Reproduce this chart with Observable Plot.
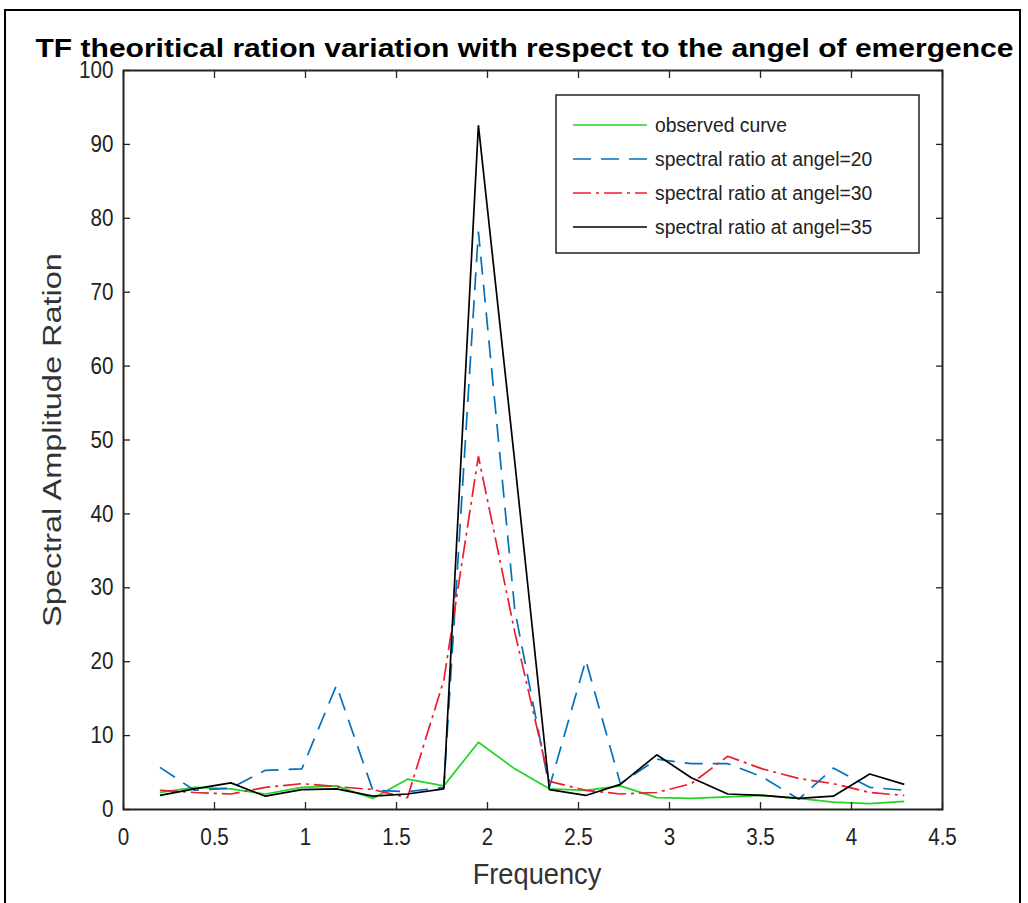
<!DOCTYPE html>
<html>
<head>
<meta charset="utf-8">
<script src="https://cdn.jsdelivr.net/npm/d3@7"></script>
<script src="https://cdn.jsdelivr.net/npm/@observablehq/plot@0.6"></script>
<style>
  html, body { margin: 0; padding: 0; background: #fff; }
  #chart { position: relative; width: 1028px; height: 903px; }
</style>
</head>
<body>
<div id="chart"></div>
<script>
const titleText = "TF theoritical ration variation with respect to the angel of emergence";
const xLabel = "Frequency";
const yLabel = "Spectral Amplitude Ration";
const xTicks = [0, 0.5, 1, 1.5, 2, 2.5, 3, 3.5, 4, 4.5];
const yTicks = [0, 10, 20, 30, 40, 50, 60, 70, 80, 90, 100];
const freq = [0.2, 0.39, 0.59, 0.78, 0.98, 1.17, 1.37, 1.56, 1.76, 1.95, 2.15, 2.34, 2.54, 2.73, 2.93, 3.12, 3.32, 3.51, 3.71, 3.9, 4.1, 4.29];
const observed = [2.3, 3.0, 2.8, 2.1, 3.0, 3.2, 1.5, 4.1, 3.2, 9.1, 5.5, 2.8, 2.6, 3.2, 1.6, 1.5, 1.7, 1.9, 1.5, 1.0, 0.8, 1.1];
const angle20 = [5.7, 2.6, 2.9, 5.3, 5.5, 16.8, 2.6, 2.4, 3.0, 78.2, 27.0, 3.0, 20.2, 3.5, 6.8, 6.2, 6.2, 4.4, 1.4, 5.6, 3.0, 2.6];
const angle30 = [2.6, 2.3, 2.1, 3.0, 3.5, 3.1, 2.7, 1.6, 17.5, 47.8, 24.0, 3.8, 2.6, 2.1, 2.3, 3.5, 7.2, 5.5, 4.2, 3.5, 2.3, 1.9];
const angle35 = [1.9, 2.8, 3.6, 1.8, 2.7, 2.8, 1.8, 2.1, 2.8, 92.6, 47.0, 2.7, 1.9, 3.4, 7.4, 4.3, 2.1, 1.9, 1.5, 1.8, 4.8, 3.4];
const seriesNames = ["observed curve", "spectral ratio at angel=20", "spectral ratio at angel=30", "spectral ratio at angel=35"];

const seriesStyle = [
  {stroke: "#22d522", dash: null},
  {stroke: "#0072BD", dash: "18,10"},
  {stroke: "#ee1c2c", dash: "18,5,3,5"},
  {stroke: "#000000", dash: null}
];
const seriesValues = [observed, angle20, angle30, angle35];
const rows = [];
seriesValues.forEach((vals, s) => vals.forEach((v, i) => rows.push({series: seriesNames[s], f: freq[i], v})));

const FONT = "'Liberation Sans', Arial, sans-serif";

const lineMarks = seriesNames.map((name, s) =>
  Plot.line(rows.filter(r => r.series === name), {
    x: "f", y: "v",
    stroke: seriesStyle[s].stroke,
    strokeWidth: 1.7,
    strokeDasharray: seriesStyle[s].dash,
    strokeLinejoin: "miter",
    strokeLinecap: "butt"
  })
);

const plot = Plot.plot({
  width: 1028,
  height: 903,
  marginLeft: 123,
  marginRight: 86,
  marginTop: 70,
  marginBottom: 94,
  style: {fontFamily: FONT, fontSize: "24px", color: "#222", background: "transparent"},
  x: {domain: [0, 4.5], label: null},
  y: {domain: [0, 100], label: null},
  marks: [
    ...lineMarks,
    Plot.axisX(xTicks, {anchor: "bottom", tickSize: -7, tickPadding: 25, tickFormat: d => String(d), fontSize: 24, stroke: "#222", strokeWidth: 1.3}),
    Plot.axisX(xTicks, {anchor: "top", tickSize: -7, tickFormat: () => "", stroke: "#222", strokeWidth: 1.3}),
    Plot.axisY(yTicks, {anchor: "left", tickSize: -7, tickPadding: 17, tickFormat: d => String(d), fontSize: 24, stroke: "#222", strokeWidth: 1.3}),
    Plot.axisY(yTicks, {anchor: "right", tickSize: -7, tickFormat: () => "", stroke: "#222", strokeWidth: 1.3}),
    Plot.frame({stroke: "#222", strokeWidth: 2}),
    Plot.text([titleText], {frameAnchor: "top", dy: -32, dx: -8.5, fontSize: 25.5, fontWeight: "bold", fill: "#000", textAnchor: "middle", className: "ttl"}),
    Plot.text([xLabel], {frameAnchor: "bottom", dy: 74, dx: 4, fontSize: 29, fill: "#333", textAnchor: "middle", className: "xlab"}),
    Plot.text([yLabel], {frameAnchor: "left", dx: -71, rotate: -90, fontSize: 32.5, fill: "#333", textAnchor: "middle", className: "ylab"})
  ]
});

document.getElementById("chart").appendChild(plot);

const svg = d3.select(plot);
// condense / stretch texts to match the reference's look
svg.selectAll(".ttl text").attr("textLength", 978).attr("lengthAdjust", "spacingAndGlyphs");
svg.selectAll('g[aria-label="x-axis tick label"] text, g[aria-label="y-axis tick label"] text')
  .attr("transform", function() { return (this.getAttribute("transform") || "") + " scale(0.86,1)"; });
svg.selectAll(".xlab text").attr("transform", function() { return (this.getAttribute("transform") || "") + " scale(0.94,1)"; });
svg.selectAll(".ylab text").attr("transform", function() { return (this.getAttribute("transform") || "") + " scale(1,0.8)"; });

// outer figure border
svg.append("path").attr("d", "M5,903V10H1020V903").attr("fill", "none").attr("stroke", "#000").attr("stroke-width", 2);

// legend
const lg = svg.append("g").attr("font-family", FONT).attr("font-size", 21).attr("text-anchor", "start");
lg.append("rect").attr("x", 556).attr("y", 95).attr("width", 363).attr("height", 158)
  .attr("fill", "#fff").attr("stroke", "#222").attr("stroke-width", 1.5);
seriesNames.forEach((name, i) => {
  const cy = 125 + i * 34;
  lg.append("line").attr("x1", 573).attr("x2", 647).attr("y1", cy).attr("y2", cy)
    .attr("stroke", seriesStyle[i].stroke).attr("stroke-width", 1.7)
    .attr("stroke-dasharray", seriesStyle[i].dash);
  lg.append("text").attr("transform", `translate(655,${cy}) scale(0.92,1)`).attr("dy", "0.35em")
    .attr("text-anchor", "start").attr("fill", "#222").text(name);
});
</script>
</body>
</html>
